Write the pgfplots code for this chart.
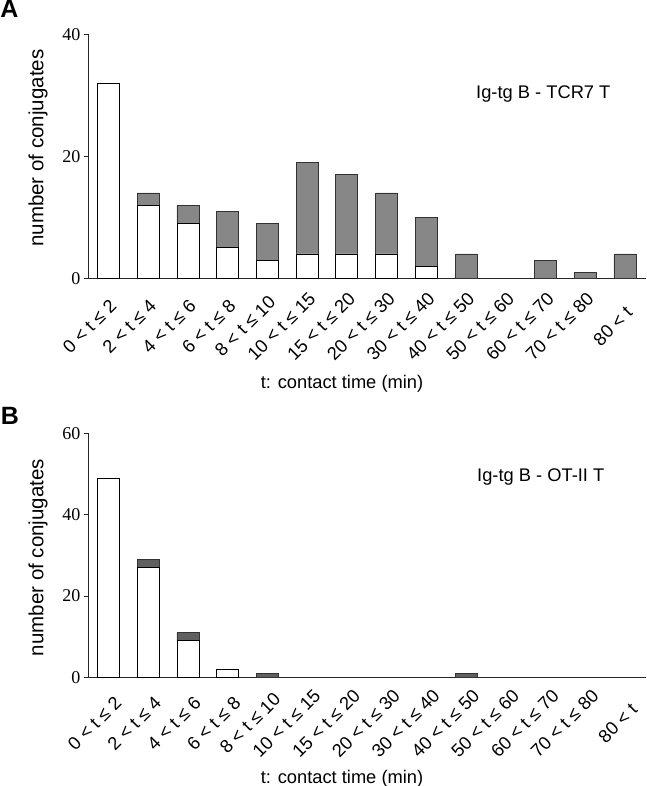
\documentclass[border=0pt]{standalone}
\usepackage{pgfplots}
\pgfplotsset{compat=1.18}
\usepackage{fontspec}
\setmainfont{Liberation Serif}
\setsansfont{Liberation Sans}
\definecolor{grayA}{HTML}{878787}
\definecolor{grayB}{HTML}{606060}
\newcommand{\lbl}{\sffamily\fontsize{18.3}{20}\selectfont}
\newcommand{\ylbl}{\sffamily\fontsize{20.5}{22}\selectfont}
\newsavebox{\xlbox}
\newlength{\xlw}
% place a 45-degree label so that its centre is shifted horizontally by -0.33*width
\newcommand{\xl}[1]{\sbox{\xlbox}{#1}\setlength{\xlw}{0.233\wd\xlbox}%
  \rlap{\kern\dimexpr-\xlw-0.5\wd\xlbox\relax\raisebox{\dimexpr\xlw-0.5\ht\xlbox+0.5\dp\xlbox\relax}[0pt][0pt]{\usebox{\xlbox}}}}
\begin{document}
\begin{tikzpicture}[x=1pt,y=1pt]
\useasboundingbox (0,0) rectangle (646,786);
\pgfplotsset{
  panel/.style={
    scale only axis, width=557.4pt,
    xmin=-0.5, xmax=13.53, ymin=0,
    axis x line*=bottom, axis y line*=left,
    axis line style={line width=0.9pt, black!85},
    ybar stacked, bar width=0.554,
    xtick=data,
    xticklabels={\xl{0 < t ≤ 2}, \xl{2 < t ≤ 4}, \xl{4 < t ≤ 6}, \xl{6 < t ≤ 8}, \xl{8 < t ≤ 10}, \xl{10 < t ≤ 15}, \xl{15 < t ≤ 20}, \xl{20 < t ≤ 30}, \xl{30 < t ≤ 40}, \xl{40 < t ≤ 50}, \xl{50 < t ≤ 60}, \xl{60 < t ≤ 70}, \xl{70 < t ≤ 80}, \xl{80 < t}},
    x tick style={draw=none},
    y tick style={line width=0.9pt, black!85},
    tick align=outside, major tick length=5pt,
    yticklabel style={font=\rmfamily\fontsize{18}{18}\selectfont, inner sep=0pt, xshift=-3pt},
    /pgf/number format/assume math mode=true,
    ylabel={number of conjugates},
    xlabel={t: contact time (min)},
  },
}
% ---------------- Panel A ----------------
\begin{axis}[panel, at={(88.6pt,507.7pt)}, anchor=south west,
  height=243.8pt, ymax=40, ytick={0,20,40},
  xticklabel style={font=\lbl, xshift=3pt, yshift=-43pt, rotate=45, anchor=center, inner sep=0pt},
  every axis y label/.style={at={(rel axis cs:-0.0908,0.534)}, rotate=90, anchor=center, font=\ylbl},
  every axis x label/.style={at={(rel axis cs:0.4546,-0.4336)}, anchor=center, font=\lbl}]
\addplot[fill=white, draw=black, line width=0.8pt] coordinates {
(0,32) (1,12) (2,9) (3,5) (4,3) (5,4) (6,4) (7,4) (8,2) (9,0) (10,0) (11,0) (12,0) (13,0)};
\addplot[fill=grayA, draw=black!80, line width=0.8pt] coordinates {
(0,0) (1,2) (2,3) (3,6) (4,6) (5,15) (6,13) (7,10) (8,8) (9,4) (10,0) (11,3) (12,1) (13,4)};
\end{axis}
% ---------------- Panel B ----------------
\begin{axis}[panel, at={(88.6pt,108.7pt)}, anchor=south west,
  height=244pt, ymax=60, ytick={0,20,40,60},
  xticklabel style={font=\lbl, xshift=8pt, yshift=-41pt, rotate=45, anchor=center, inner sep=0pt},
  every axis y label/.style={at={(rel axis cs:-0.0908,0.491)}, rotate=90, anchor=center, font=\ylbl},
  every axis x label/.style={at={(rel axis cs:0.4546,-0.4168)}, anchor=center, font=\lbl}]
\addplot[fill=white, draw=black, line width=0.8pt] coordinates {
(0,49) (1,27) (2,9) (3,2) (4,0) (5,0) (6,0) (7,0) (8,0) (9,0) (10,0) (11,0) (12,0) (13,0)};
\addplot[fill=grayB, draw=black!80, line width=0.8pt] coordinates {
(0,0) (1,2) (2,2) (3,0) (4,1) (5,0) (6,0) (7,0) (8,0) (9,1) (10,0) (11,0) (12,0) (13,0)};
\end{axis}
\node[font=\sffamily\bfseries\fontsize{25}{25}\selectfont, inner sep=0pt] at (9.5,777) {A};
\node[font=\sffamily\bfseries\fontsize{25}{25}\selectfont, inner sep=0pt] at (10,370) {B};
\node[font=\lbl, anchor=west, inner sep=0pt] at (476,692) {Ig-tg B - TCR7 T};
\node[font=\lbl, anchor=west, inner sep=0pt] at (477,309) {Ig-tg B - OT-II T};
\end{tikzpicture}
\end{document}
